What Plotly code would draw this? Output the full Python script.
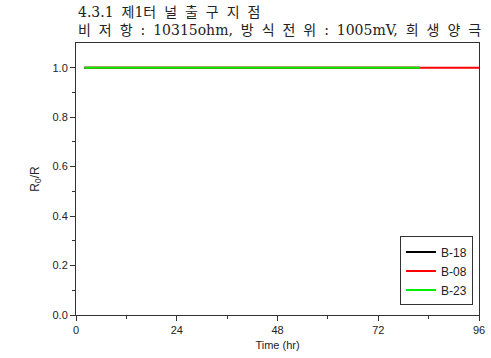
import plotly.graph_objects as go

time_b18 = [2, 12, 24, 36, 48, 60, 72, 82]
val_b18 = [1.0, 1.0, 1.0, 1.0, 1.0, 1.0, 1.0, 1.0]
time_b08 = [2, 12, 24, 36, 48, 60, 72, 82, 96]
val_b08 = [1.0, 1.0, 1.0, 1.0, 1.0, 1.0, 1.0, 1.0, 1.0]
time_b23 = [2, 12, 24, 36, 48, 60, 72, 82]
val_b23 = [1.0, 1.0, 1.0, 1.0, 1.0, 1.0, 1.0, 1.0]

title_line1 = "4.3.1 제1터 널 출 구 지 점"
title_line2 = "비 저 항 : 10315ohm, 방 식 전 위 : 1005mV, 희 생 양 극"


def widen(s):
    return s.replace(" ", "\u2005 ")


fig = go.Figure()
fig.add_trace(go.Scatter(x=time_b18, y=val_b18, mode="lines", name="B-18",
                         line=dict(color="black", width=1.8)))
fig.add_trace(go.Scatter(x=time_b08, y=val_b08, mode="lines", name="B-08",
                         line=dict(color="red", width=1.8)))
fig.add_trace(go.Scatter(x=time_b23, y=val_b23, mode="lines", name="B-23",
                         line=dict(color="#00ee00", width=1.8)))

axis_font = dict(family="Liberation Sans, Arial", size=11, color="#222")
fig.update_layout(
    width=491, height=358,
    margin=dict(l=76, r=12, t=43, b=43),
    paper_bgcolor="white", plot_bgcolor="white",
    showlegend=True,
    legend=dict(x=0.985, y=0.035, xanchor="right", yanchor="bottom",
                bgcolor="white", bordercolor="#333", borderwidth=1,
                font=dict(family="Liberation Sans, Arial", size=12, color="#222"),
                tracegroupgap=0, itemwidth=30),
    annotations=[
        dict(text=widen(title_line1) + "<br>" + widen(title_line2), xref="paper", yref="paper",
             x=0.0, y=1.0, xanchor="left", yanchor="bottom", yshift=3, showarrow=False,
             align="left",
             font=dict(family="DejaVu Serif, Noto Sans CJK KR", size=14, color="#222")),
    ],
)
fig.update_xaxes(range=[0, 96], tickvals=[0, 24, 48, 72, 96], ticks="outside",
                 ticklen=5, tickwidth=1, tickcolor="#333", automargin=False,
                 minor=dict(tickvals=[12, 36, 60, 84], ticks="outside", ticklen=3, tickcolor="#333"),
                 showline=True, linecolor="#333", linewidth=1, mirror=True,
                 showgrid=False, zeroline=False, tickfont=axis_font,
                 title=dict(text="Time (hr)", font=axis_font, standoff=6))
fig.update_yaxes(range=[0, 1.1], tickvals=[0, 0.2, 0.4, 0.6, 0.8, 1.0],
                 ticktext=["0.0", "0.2", "0.4", "0.6", "0.8", "1.0"], ticks="outside",
                 ticklen=5, tickwidth=1, tickcolor="#333", automargin=False,
                 minor=dict(tickvals=[0.1, 0.3, 0.5, 0.7, 0.9], ticks="outside", ticklen=3, tickcolor="#333"),
                 showline=True, linecolor="#333", linewidth=1, mirror=True,
                 showgrid=False, zeroline=False, tickfont=axis_font,
                 title=dict(text="R<sub>0</sub>/R", font=dict(family="Liberation Sans, Arial", size=12, color="#222"), standoff=10))

fig.write_html("out.html", config={"displayModeBar": False},
               post_script="document.body.style.margin='0';document.body.style.overflow='hidden';")
